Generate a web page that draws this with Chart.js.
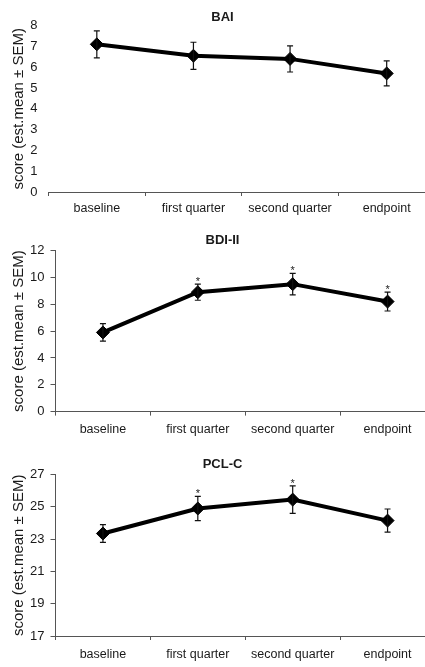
<!DOCTYPE html>
<html>
<head>
<meta charset="utf-8">
<script src="https://cdn.jsdelivr.net/npm/chart.js@4.4.1/dist/chart.umd.min.js"></script>
<style>
  html, body { margin: 0; padding: 0; background: #fff; overflow: hidden; }
  #page { position: relative; width: 425px; height: 667px; overflow: hidden; }
  .panel { position: absolute; left: 0; }
</style>
</head>
<body>
<div id="page">
  <div class="panel" style="top:0px"><canvas id="bai" width="448" height="222"></canvas></div>
  <div class="panel" style="top:222px"><canvas id="bdi" width="448" height="223"></canvas></div>
  <div class="panel" style="top:445px"><canvas id="pcl" width="448" height="224"></canvas></div>
</div>
<script>
// time points
const categories = ["baseline", "first quarter", "second quarter", "endpoint"];

// BAI
const baiMean = [7.1, 6.55, 6.4, 5.7];
const baiSem = [0.65, 0.65, 0.63, 0.6];
const baiSig = [false, false, false, false];
const baiTicks = [0, 1, 2, 3, 4, 5, 6, 7, 8];

// BDI-II
const bdiMean = [5.9, 8.9, 9.5, 8.2];
const bdiSem = [0.65, 0.6, 0.8, 0.7];
const bdiSig = [false, true, true, true];
const bdiTicks = [0, 2, 4, 6, 8, 10, 12];

// PCL-C
const pclMean = [23.35, 24.9, 25.45, 24.15];
const pclSem = [0.55, 0.75, 0.85, 0.72];
const pclSig = [false, true, true, false];
const pclTicks = [17, 19, 21, 23, 25, 27];

const FONT = "Arial, 'Liberation Sans', sans-serif";
const AXIS = "#555";
const TEXT = "#1a1a1a";

// draws the SEM whiskers and the significance stars
const errorBars = {
  id: "errorBars",
  afterDatasetsDraw(chart, args, opts) {
    const { ctx, scales } = chart;
    const x = scales.x, y = scales.y;
    ctx.save();
    ctx.strokeStyle = "#111";
    ctx.lineWidth = 1.2;
    opts.mean.forEach((m, i) => {
      const px = x.getPixelForValue(i);
      const top = y.getPixelForValue(m + opts.sem[i]);
      const bot = y.getPixelForValue(m - opts.sem[i]);
      ctx.beginPath();
      ctx.moveTo(px, top); ctx.lineTo(px, bot);
      ctx.moveTo(px - 3, top); ctx.lineTo(px + 3, top);
      ctx.moveTo(px - 3, bot); ctx.lineTo(px + 3, bot);
      ctx.stroke();
      if (opts.sig[i]) {
        ctx.fillStyle = TEXT;
        ctx.font = "11px " + FONT;
        ctx.textAlign = "center";
        ctx.textBaseline = "alphabetic";
        ctx.fillText("*", px, top + 1);
      }
    });
    ctx.restore();
  }
};

function makePanel(id, title, mean, sem, sig, ticks, p) {
  const ctx = document.getElementById(id).getContext("2d");
  return new Chart(ctx, {
    type: "line",
    data: {
      labels: categories,
      datasets: [{
        data: mean,
        borderColor: "#000",
        backgroundColor: "#000",
        borderWidth: 4,
        pointStyle: "rectRot",
        pointRadius: 6.5,
        pointBorderWidth: 1,
        tension: 0,
      }],
    },
    options: {
      responsive: false,
      animation: false,
      layout: { padding: { left: 10, right: 13, top: 0, bottom: p.bottom } },
      scales: {
        x: {
          offset: true,
          grid: { drawOnChartArea: false, drawTicks: true, tickLength: 4, color: AXIS, offset: true },
          border: { display: true, color: AXIS, width: 1 },
          ticks: { color: TEXT, font: { family: FONT, size: 12.5 }, padding: p.xPad, maxRotation: 0, autoSkip: false },
        },
        y: {
          min: ticks[0],
          max: ticks[ticks.length - 1],
          afterBuildTicks: (scale) => { scale.ticks = ticks.map((v) => ({ value: v })); },
          afterFit: (scale) => { scale.width = p.left - 10; },
          grid: { drawOnChartArea: false, drawTicks: true, tickLength: 5, color: p.yAxis ? AXIS : "transparent" },
          border: { display: p.yAxis, color: AXIS, width: 1 },
          ticks: { color: TEXT, font: { family: FONT, size: 13 }, padding: 6 },
          title: {
            display: true,
            text: "score (est.mean \u00b1 SEM)",
            color: TEXT,
            font: { family: FONT, size: 15 },
            padding: { top: 0, bottom: 0 },
          },
        },
      },
      plugins: {
        legend: { display: false },
        tooltip: { enabled: false },
        title: {
          display: true,
          text: title,
          color: TEXT,
          font: { family: FONT, size: 13, weight: "bold" },
          padding: p.titlePad,
        },
        errorBars: { mean: mean, sem: sem, sig: sig },
      },
    },
    plugins: [errorBars],
  });
}

makePanel("bai", "BAI", baiMean, baiSem, baiSig, baiTicks,
  { bottom: 1, xPad: 5, left: 48.5, yAxis: false, titlePad: { top: 10, bottom: 0 } });
makePanel("bdi", "BDI-II", bdiMean, bdiSem, bdiSig, bdiTicks,
  { bottom: 2.4, xPad: 6, left: 55.5, yAxis: true, titlePad: { top: 11, bottom: 2 } });
makePanel("pcl", "PCL-C", pclMean, pclSem, pclSig, pclTicks,
  { bottom: 0, xPad: 7, left: 55.5, yAxis: true, titlePad: { top: 12, bottom: 2 } });
</script>
</body>
</html>
